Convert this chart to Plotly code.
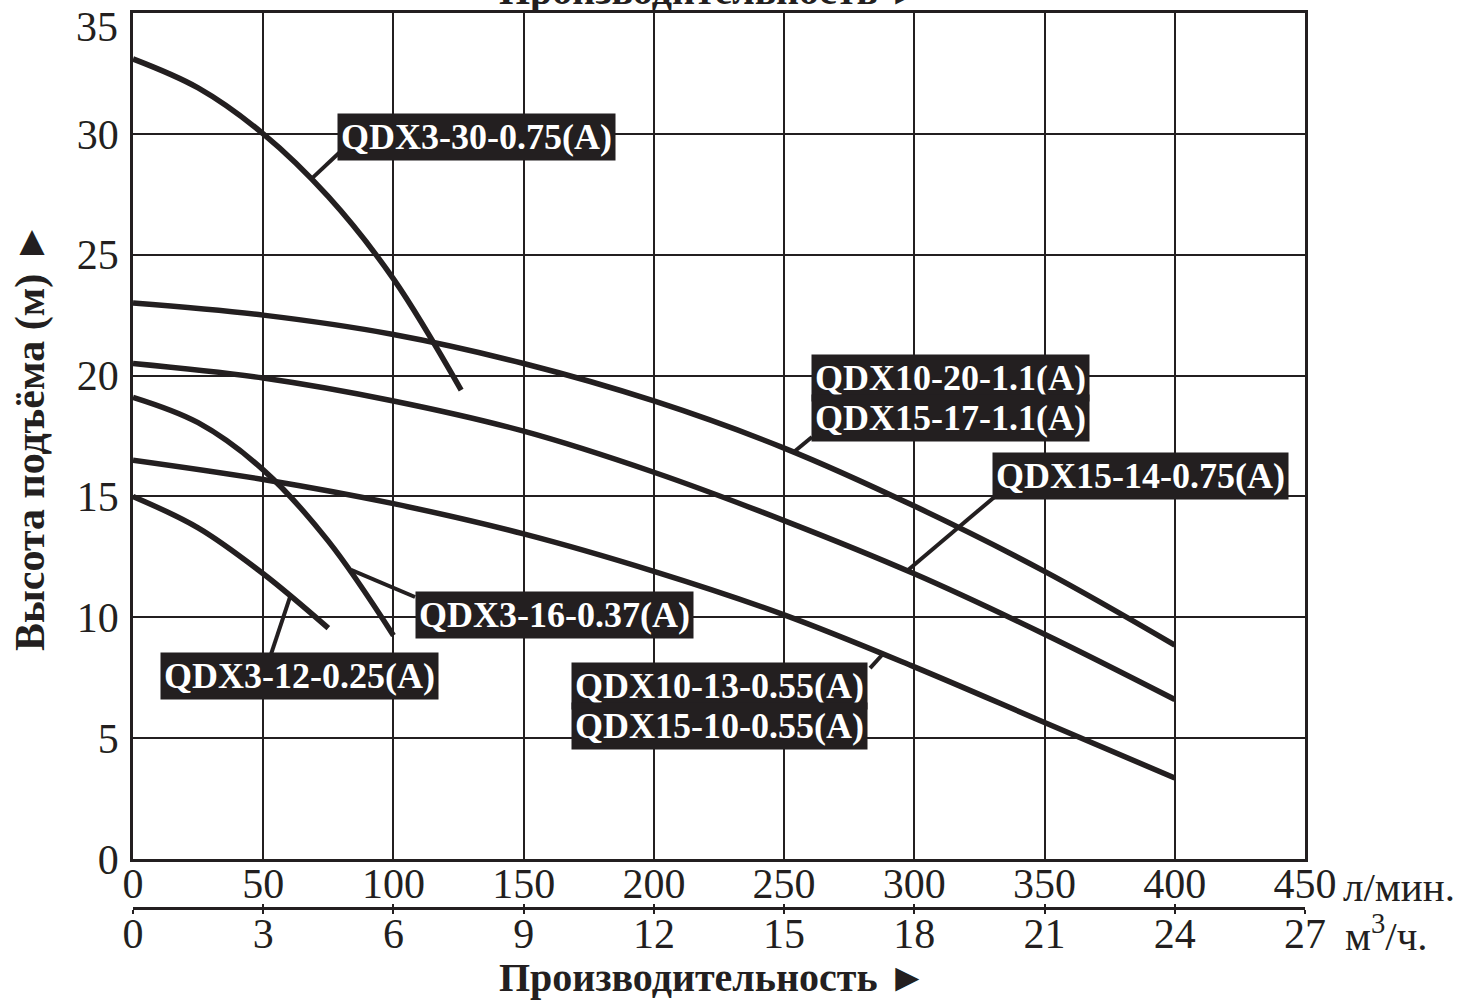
import plotly.graph_objects as go

# ---------------- data ----------------
flow_long = [0, 50, 100, 150, 200, 250, 300, 350, 400]          # л/мин
head_qdx10_20 = [23.0, 22.5, 21.7, 20.5, 18.95, 17.0, 14.6, 11.9, 8.85]
head_qdx15_14 = [20.5, 19.9, 18.95, 17.7, 16.0, 14.0, 11.8, 9.3, 6.6]
head_qdx10_13 = [16.5, 15.7, 14.7, 13.45, 11.9, 10.1, 7.95, 5.65, 3.35]

flow_qdx3_30 = [0, 25, 50, 75, 100, 126]
head_qdx3_30 = [33.1, 31.9, 30.0, 27.4, 24.0, 19.4]

flow_qdx3_16 = [0, 25, 50, 75, 100]
head_qdx3_16 = [19.1, 18.05, 16.1, 13.15, 9.25]

flow_qdx3_12 = [0, 25, 50, 75]
head_qdx3_12 = [15.0, 13.7, 11.8, 9.55]

x_ticks_lmin = [0, 50, 100, 150, 200, 250, 300, 350, 400, 450]
x_ticks_m3h = [0, 3, 6, 9, 12, 15, 18, 21, 24, 27]
y_ticks = [0, 5, 10, 15, 20, 25, 30, 35]

# each label: list of text lines
label_texts = [
    ["QDX3-30-0.75(A)"],
    ["QDX10-20-1.1(A)", "QDX15-17-1.1(A)"],
    ["QDX15-14-0.75(A)"],
    ["QDX3-16-0.37(A)"],
    ["QDX3-12-0.25(A)"],
    ["QDX10-13-0.55(A)", "QDX15-10-0.55(A)"],
]

# label placement (box centre, leader start, leader end) in axis units
label_layout = [
    dict(cx=131.7, cy=29.87, sx=79.5, sy=29.25, ex=69.1, ey=28.2),
    dict(cx=313.7, cy=19.07, sx=260.7, sy=17.46, ex=254.2, ey=16.88),
    dict(cx=387.0, cy=15.85, sx=331.0, sy=15.0, ex=297.6, ey=11.96),
    dict(cx=161.7, cy=10.10, sx=108.3, sy=10.84, ex=83.7, ey=11.96),
    dict(cx=64.1, cy=7.57, sx=53.0, sy=8.48, ex=60.3, ey=10.84),
    dict(cx=225.0, cy=6.33, sx=283.0, sy=7.9, ex=287.6, ey=8.44),
]
LINE_GAP = 1.62   # vertical distance (axis units) between lines of a two-line label

INK = "#231f20"
SERIF = "Liberation Serif"

fig = go.Figure()

curves = [
    (flow_qdx3_30, head_qdx3_30),
    (flow_long, head_qdx10_20),
    (flow_long, head_qdx15_14),
    (flow_long, head_qdx10_13),
    (flow_qdx3_16, head_qdx3_16),
    (flow_qdx3_12, head_qdx3_12),
]
for xs, ys in curves:
    fig.add_trace(go.Scatter(x=xs, y=ys, mode="lines",
                             line=dict(color=INK, width=5.5, shape="spline", smoothing=1.0),
                             hoverinfo="skip", showlegend=False))

# invisible traces so the secondary scale axes are drawn
fig.add_trace(go.Scatter(x=[x_ticks_m3h[0], x_ticks_m3h[-1]], y=[0, 0], xaxis="x2", yaxis="y",
                         mode="markers", marker=dict(opacity=0), hoverinfo="skip", showlegend=False))
fig.add_trace(go.Scatter(x=[x_ticks_m3h[0], x_ticks_m3h[-1]], y=[0, 0], xaxis="x3", yaxis="y",
                         mode="markers", marker=dict(opacity=0), hoverinfo="skip", showlegend=False))

# leaders
for lay in label_layout:
    fig.add_shape(type="line", xref="x", yref="y", x0=lay["sx"], y0=lay["sy"],
                  x1=lay["ex"], y1=lay["ey"], line=dict(color=INK, width=4))

# label boxes
for lines, lay in zip(label_texts, label_layout):
    n = len(lines)
    for i, txt in enumerate(lines):
        yc = lay["cy"] + (n - 1) / 2 * LINE_GAP - i * LINE_GAP
        fig.add_annotation(x=lay["cx"], y=yc, xref="x", yref="y", text=txt,
                           showarrow=False, bgcolor=INK, borderpad=3,
                           font=dict(family=SERIF, size=36, color="white", weight="bold"))

W, H = 1470, 1003
mt, mb, ml, mr = 13, 95, 133, 165
plot_h = H - mt - mb
ydom0 = (908 - 859) / plot_h

def py(pix):
    return (908 - pix) / plot_h

tickfont = dict(family=SERIF, size=42, color=INK)

# top y tick label sits lower than its gridline in the original (kept inside the page)
y_ticktext = [str(v) for v in y_ticks[:-1]] + [""]
fig.add_annotation(xref="paper", yref="y", x=0, y=y_ticks[-1], xanchor="right", yanchor="middle",
                   xshift=-13, yshift=-14, text=str(y_ticks[-1]), showarrow=False, font=tickfont)

fig.add_annotation(xref="paper", yref="paper", x=1, y=py(887), xanchor="left", yanchor="middle",
                   xshift=36, text="л/мин.", showarrow=False,
                   font=dict(family=SERIF, size=41, color=INK))
fig.add_annotation(xref="paper", yref="paper", x=1, y=py(933), xanchor="left", yanchor="middle",
                   xshift=38, text="м<sup>3</sup>/ч.", showarrow=False,
                   font=dict(family=SERIF, size=41, color=INK))
fig.add_annotation(xref="paper", yref="paper", x=(713 - 133) / 1172, y=py(977),
                   xanchor="center", yanchor="middle", text="Производительность ►",
                   showarrow=False, font=dict(family=SERIF, size=40, color=INK, weight="bold"))
fig.add_annotation(xref="paper", yref="paper", x=(713 - 133) / 1172, y=1,
                   xanchor="center", yanchor="bottom", yshift=-2, text="Производительность ►",
                   showarrow=False, font=dict(family=SERIF, size=40, color=INK, weight="bold"))
fig.add_annotation(xref="paper", yref="paper", x=(30 - 133) / 1172, y=py(437),
                   xanchor="center", yanchor="middle", textangle=-90,
                   text="Высота подъёма (м) ►", showarrow=False,
                   font=dict(family=SERIF, size=42, color=INK, weight="bold"))

fig.update_layout(
    width=W, height=H,
    margin=dict(l=ml, r=mr, t=mt, b=mb, autoexpand=False),
    paper_bgcolor="white", plot_bgcolor="white",
    showlegend=False,
    xaxis=dict(range=[0, 450], tickvals=x_ticks_lmin, showgrid=True, gridcolor=INK, gridwidth=2,
               zeroline=False, showline=True, linecolor=INK, linewidth=2.5, mirror=True,
               ticks="", tickfont=tickfont, ticklabelstandoff=-14, ticklabeloverflow="allow",
               automargin=False, anchor="y"),
    xaxis2=dict(range=[0, 27], tickvals=x_ticks_m3h, overlaying="x", anchor="free", position=0,
                side="bottom", showgrid=False, zeroline=False, showline=True, linecolor=INK,
                linewidth=2.5, ticks="outside", ticklen=4, tickwidth=2, tickcolor=INK,
                tickfont=tickfont, ticklabelstandoff=-16, ticklabeloverflow="allow",
                automargin=False),
    xaxis3=dict(range=[0, 27], tickvals=x_ticks_m3h, overlaying="x", anchor="free", position=0,
                side="bottom", showgrid=False, zeroline=False, showline=False,
                ticks="inside", ticklen=4, tickwidth=2, tickcolor=INK, showticklabels=False,
                automargin=False),
    yaxis=dict(range=[0, 35], tickvals=y_ticks, ticktext=y_ticktext, domain=[ydom0, 1],
               showgrid=True, gridcolor=INK,
               gridwidth=2, zeroline=False, showline=True, linecolor=INK, linewidth=2.5,
               mirror=True, ticks="", tickfont=tickfont, ticklabelstandoff=3,
               ticklabeloverflow="allow", automargin=False),
)

fig.write_html("out.html")
